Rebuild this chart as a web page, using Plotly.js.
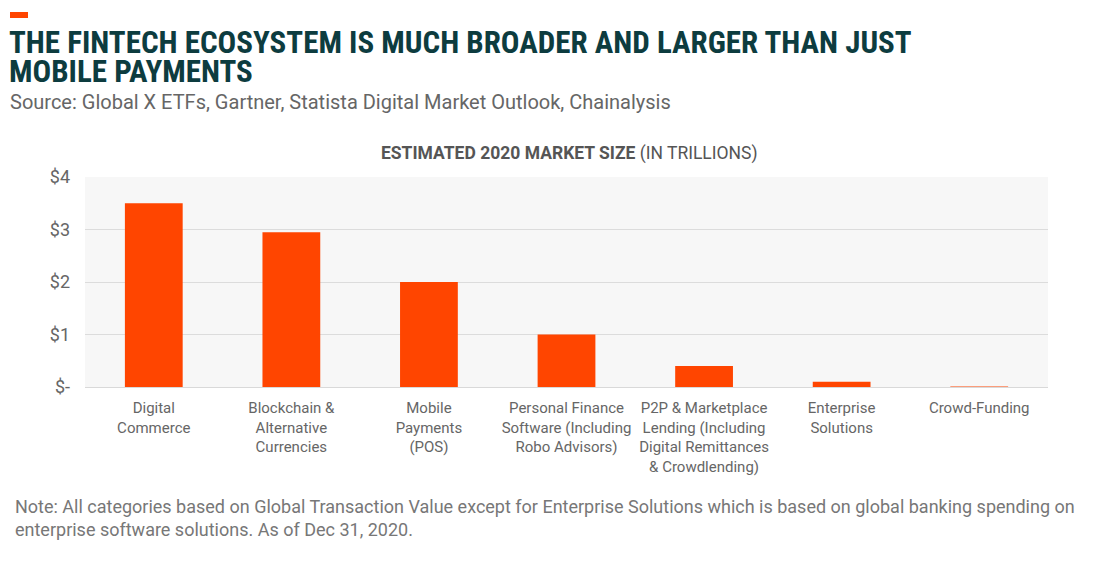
<!DOCTYPE html>
<html><head><meta charset="utf-8">
<script src="https://cdn.plot.ly/plotly-3.0.1.min.js"></script>
<style>body{margin:0;background:#fff}#chart{width:1108px;height:562px}</style>
</head><body><div id="chart"></div>
<script>
const categories = ["Digital<br>Commerce","Blockchain &<br>Alternative<br>Currencies","Mobile<br>Payments<br>(POS)","Personal Finance<br>Software (Including<br>Robo Advisors)","P2P & Marketplace<br>Lending (Including<br>Digital Remittances<br>& Crowdlending)","Enterprise<br>Solutions","Crowd-Funding"];
const values = [3.5, 2.95, 2.0, 1.0, 0.4, 0.1, 0.01];
const yTickVals = [0, 1, 2, 3, 4];
const yTickText = ["$-", "$1", "$2", "$3", "$4"];
const titleLine1 = "THE FINTECH ECOSYSTEM IS MUCH BROADER AND LARGER THAN JUST";
const titleLine2 = "MOBILE PAYMENTS";
const sourceText = "Source: Global X ETFs, Gartner, Statista Digital Market Outlook, Chainalysis";
const chartTitle = "<b>ESTIMATED 2020 MARKET SIZE</b> (IN TRILLIONS)";
const noteText = "Note: All categories based on Global Transaction Value except for Enterprise Solutions which is based on global banking spending on<br>enterprise software solutions. As of Dec 31, 2020.";

const M = {l:85, r:60, t:177, b:175};
const PW = 1108 - M.l - M.r, PH = 562 - M.t - M.b;
const px = x => (x - M.l) / PW;
const py = y => (562 - M.b - y) / PH;

const trace = {type:"bar", x:categories, y:values, marker:{color:"#ff4500"}, hoverinfo:"skip"};
const layout = {
  width:1108, height:562,
  margin:M,
  paper_bgcolor:"#ffffff", plot_bgcolor:"#f7f7f7",
  bargap:0.58,
  showlegend:false,
  font:{family:"Roboto, sans-serif", color:"#666"},
  xaxis:{tickfont:{size:15, color:"#666"}, showline:true, linecolor:"#d9d9d9", linewidth:1, ticks:"", ticklabelstandoff:7, fixedrange:true},
  yaxis:{range:[0,4], tickvals:yTickVals, ticktext:yTickText, tickfont:{size:18, color:"#666"}, gridcolor:"#dcdcdc", gridwidth:1, zeroline:false, ticks:"", ticklen:0, ticklabelstandoff:14, fixedrange:true},
  shapes:[{type:"rect", xref:"paper", yref:"paper", x0:px(10), x1:px(28), y0:py(18), y1:py(12), fillcolor:"#ff4500", line:{width:0}}],
  annotations:[
    {xref:"paper", yref:"paper", x:px(8), y:py(28), xanchor:"left", yanchor:"top", align:"left", valign:"middle", height:27, borderpad:0, showarrow:false,
     text:titleLine1, font:{family:"Liberation Sans Narrow, Roboto Condensed, Roboto, sans-serif", size:31, color:"#0d3c3f", weight:700}},
    {xref:"paper", yref:"paper", x:px(8), y:py(57), xanchor:"left", yanchor:"top", align:"left", valign:"middle", height:27, borderpad:0, showarrow:false,
     text:titleLine2, font:{family:"Liberation Sans Narrow, Roboto Condensed, Roboto, sans-serif", size:31, color:"#0d3c3f", weight:700}},
    {xref:"paper", yref:"paper", x:px(8), y:py(88), xanchor:"left", yanchor:"top", align:"left", showarrow:false,
     text:sourceText, font:{family:"Roboto, sans-serif", size:20, color:"#666"}},
    {xref:"paper", yref:"paper", x:px(569), y:py(141), xanchor:"center", yanchor:"top", showarrow:false,
     text:chartTitle, font:{family:"Roboto, sans-serif", size:17.5, color:"#555"}},
    {xref:"paper", yref:"paper", x:px(13), y:py(494), xanchor:"left", yanchor:"top", align:"left", showarrow:false,
     text:noteText, font:{family:"Roboto, sans-serif", size:18, color:"#777"}}
  ]
};
Plotly.newPlot("chart", [trace], layout, {displayModeBar:false, staticPlot:true});
</script></body></html>
